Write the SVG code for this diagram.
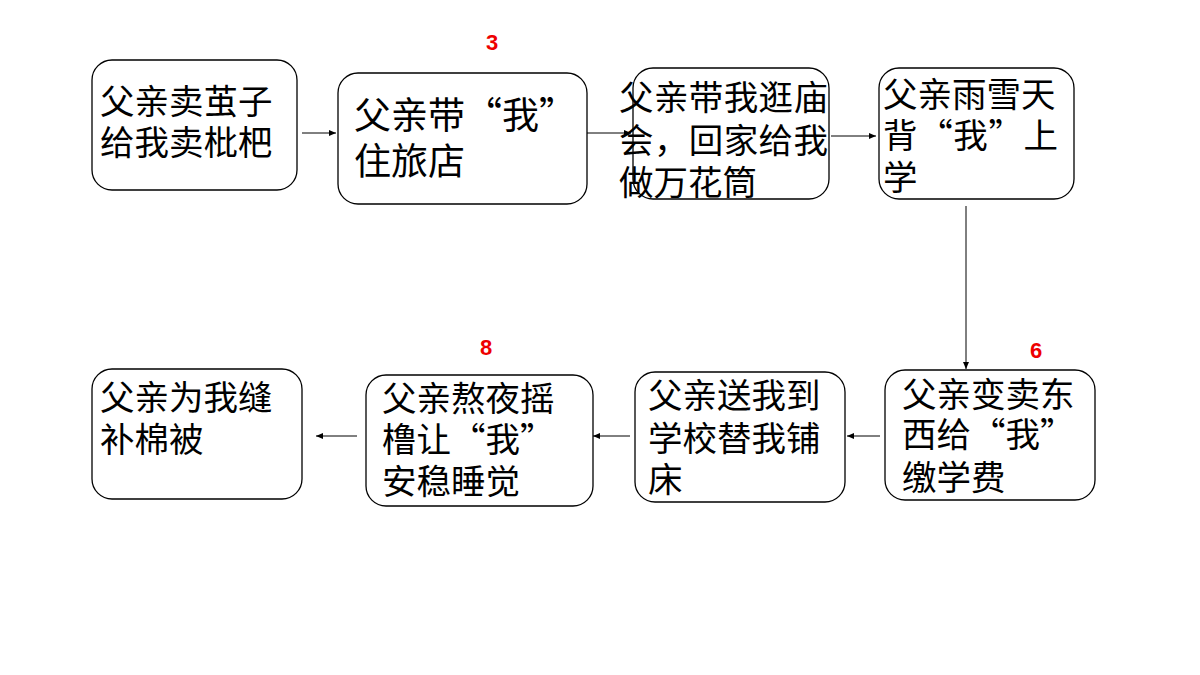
<svg xmlns="http://www.w3.org/2000/svg" width="1200" height="675" viewBox="0 0 1200 675">
<style>
.b{fill:#fff;stroke:#000;stroke-width:1.3}
.t{font-family:"Noto Sans CJK SC",sans-serif;font-size:34.5px;fill:#000}
.L{font-size:37px}
.n{font-family:"Liberation Sans",sans-serif;font-size:22px;font-weight:bold;fill:#e00}
.c{stroke:#000;stroke-width:1;fill:none;marker-end:url(#a)}
</style>
<defs><marker id="a" markerWidth="8" markerHeight="8" refX="7" refY="4" orient="auto" markerUnits="userSpaceOnUse"><path d="M0,1 L7,4 L0,7 Z" fill="#000"/></marker></defs>
<rect width="1200" height="675" fill="#fff"/>
<g id="connectors">
<line class="c" x1="302" y1="133" x2="336" y2="133"/>
<line class="c" x1="587" y1="133" x2="631" y2="133"/>
<line class="c" x1="831" y1="136" x2="876" y2="136"/>
<line class="c" x1="966" y1="206" x2="966" y2="369"/>
<line class="c" x1="880" y1="436" x2="847" y2="436"/>
<line class="c" x1="630" y1="436" x2="593" y2="436"/>
<line class="c" x1="357" y1="436" x2="316" y2="436"/>
</g>
<g id="n1"><rect class="b" x="92" y="60" width="205" height="130" rx="20"/><text class="t" x="100" y="114">父亲卖茧子</text><text class="t" x="100" y="155">给我卖枇杷</text></g>
<g id="n2"><rect class="b" x="338" y="73" width="249" height="131" rx="20"/><text class="t L" x="354" y="129">父亲带“我”</text><text class="t L" x="354" y="175">住旅店</text></g>
<g id="n3"><rect class="b" x="633" y="68" width="196" height="131" rx="20"/><text class="t" x="619" y="110" textLength="209">父亲带我逛庙</text><text class="t" x="619" y="153" textLength="209">会，回家给我</text><text class="t" x="619" y="195">做万花筒</text></g>
<g id="n4"><rect class="b" x="879" y="68" width="195" height="131" rx="20"/><text class="t" x="883" y="107">父亲雨雪天</text><text class="t" x="883" y="148" textLength="175">背“我”上</text><text class="t" x="883" y="190">学</text></g>
<g id="n5"><rect class="b" x="885" y="370" width="210" height="130" rx="20"/><text class="t" x="902" y="407">父亲变卖东</text><text class="t" x="902" y="447">西给“我”</text><text class="t" x="902" y="490">缴学费</text></g>
<g id="n6"><rect class="b" x="635" y="372" width="210" height="130" rx="20"/><text class="t" x="648" y="408">父亲送我到</text><text class="t" x="648" y="451">学校替我铺</text><text class="t" x="648" y="492">床</text></g>
<g id="n7"><rect class="b" x="366" y="375" width="227" height="131" rx="20"/><text class="t" x="382" y="411">父亲熬夜摇</text><text class="t" x="382" y="452">橹让“我”</text><text class="t" x="382" y="494">安稳睡觉</text></g>
<g id="n8"><rect class="b" x="92" y="369" width="210" height="130" rx="20"/><text class="t" x="100" y="410">父亲为我缝</text><text class="t" x="100" y="452">补棉被</text></g>
<g id="labels"><text class="n" x="486" y="50">3</text><text class="n" x="1030" y="358">6</text><text class="n" x="480" y="355">8</text></g>
</svg>
